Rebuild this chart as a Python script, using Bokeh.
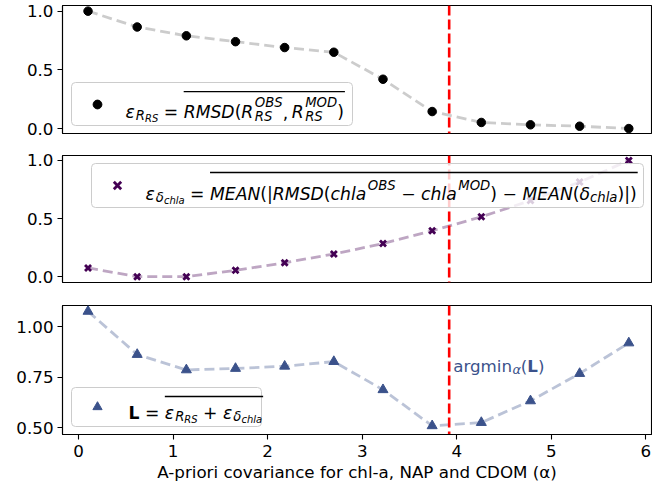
from bokeh.plotting import figure
from bokeh.models import (Range1d, FixedTicker, PrintfTickFormatter, Span, Legend,
                          LegendItem, Label, BoxAnnotation)
from bokeh.layouts import column
from bokeh.embed import file_html
from bokeh.resources import INLINE

# ---------------- data ----------------
alpha = [0.10, 0.62, 1.14, 1.66, 2.18, 2.70, 3.22, 3.74, 4.26, 4.78, 5.30, 5.82]
eps_rrs = [1.00, 0.865, 0.79, 0.74, 0.69, 0.65, 0.42, 0.145, 0.052, 0.032, 0.02, 0.0]
eps_chla = [0.075, 0.0, 0.0, 0.055, 0.12, 0.195, 0.285, 0.395, 0.515, 0.655, 0.815, 1.0]
loss = [1.075, 0.862, 0.786, 0.793, 0.804, 0.827, 0.688, 0.510, 0.526, 0.633, 0.768, 0.919]
alpha_opt = 3.92
x_ticks = [0, 1, 2, 3, 4, 5, 6]
y_ticks_top = [0.0, 0.5, 1.0]
y_ticks_bottom = [0.50, 0.75, 1.00]
x_label = "A-priori covariance for chl-a, NAP and CDOM (α)"

# ---------------- styling ----------------
FONT = "DejaVu Sans"
F = 16.7      # axis text size
FM = 17.2     # legend math size
FW = 589
XR = (-0.17, 6.06)
C_TOP = "black"
C_MID = "#440154"
C_BOT = "#3b528b"

W = {' ': 0.318, '(': 0.390, ')': 0.390, ',': 0.318, '=': 0.838, '+': 0.838, '−': 0.838,
     '|': 0.337, 'A': 0.684, 'B': 0.686, 'C': 0.698, 'D': 0.770, 'E': 0.632, 'L': 0.557,
     'M': 0.863, 'N': 0.748, 'O': 0.787, 'P': 0.603, 'R': 0.695, 'S': 0.635, 'a': 0.613,
     'c': 0.550, 'd': 0.635, 'g': 0.635, 'h': 0.634, 'i': 0.278, 'l': 0.278, 'm': 0.974,
     'n': 0.634, 'r': 0.411, 'ε': 0.541, 'δ': 0.612, 'α': 0.659}


def tw(s, size, style):
    w = sum(W.get(c, 0.6) for c in s) * size
    if style == "bold":
        w *= 1.14
    return w


def make_fig(yr, fh, top, bottom, show_x):
    p = figure(frame_width=FW, frame_height=fh, x_range=Range1d(*XR), y_range=Range1d(*yr),
               output_backend="svg", toolbar_location=None,
               x_axis_location="below" if show_x else None,
               min_border_left=62, min_border_right=1, min_border_top=top,
               min_border_bottom=bottom)
    p.xgrid.visible = False
    p.ygrid.visible = False
    p.outline_line_color = "black"
    p.outline_line_width = 1.1
    p.outline_line_alpha = 1
    for ax in p.axis:
        ax.axis_line_color = "black"
        ax.axis_line_width = 1.1
        ax.major_tick_line_color = "black"
        ax.major_tick_line_width = 1.1
        ax.major_tick_out = 5
        ax.major_tick_in = 0
        ax.minor_tick_out = 0
        ax.minor_tick_in = 0
        ax.major_label_text_font = FONT
        ax.major_label_text_font_size = f"{F}px"
        ax.major_label_text_color = "black"
        ax.major_label_standoff = 4
    return p


def converters(p):
    xs, xe = p.x_range.start, p.x_range.end
    ys, ye = p.y_range.start, p.y_range.end
    fh = p.frame_height

    def fx(px):
        return xs + px * (xe - xs) / FW

    def fy(py):
        return ys + py * (ye - ys) / fh
    return fx, fy


def add_math(p, x0, base, items, color="black", fsize=FM):
    fx, fy = converters(p)
    x = x0
    pending = 0.0
    ol0 = x0
    for it in items:
        kind = it[0]
        if kind == "g":
            x += it[1]
            continue
        if kind == "o0":
            ol0 = x
            continue
        if kind == "o1":
            yl = base + it[1]
            p.add_layout(BoxAnnotation(left=fx(ol0), right=fx(x + 1), bottom=fy(yl - 0.65),
                                       top=fy(yl + 0.65), fill_color=color, fill_alpha=1,
                                       line_color=None))
            continue
        _, txt, sf, dy, style = it
        size = fsize * sf
        p.add_layout(Label(x=fx(x), y=fy(base + dy), text=txt, text_font=FONT,
                           text_font_size=f"{size:.2f}px", text_font_style=style,
                           text_color=color, text_baseline="alphabetic", text_align="left"))
        w = tw(txt, size, style)
        if kind == "s":
            pending = max(pending, w)
        else:
            x += max(w, pending)
            pending = 0.0
    return x


def add_legend(p, renderer, left, bottom, w, h, gh):
    # frame of the legend, drawn below the formula texts
    fx, fy = converters(p)
    bkw = dict(left=fx(left), right=fx(left + w), bottom=fy(bottom), top=fy(bottom + h),
               fill_color="white", fill_alpha=0.8, line_color="#cccccc", line_width=1,
               line_alpha=1)
    if "border_radius" in BoxAnnotation.properties():
        bkw["border_radius"] = 4
    p.add_layout(BoxAnnotation(**bkw))
    # legend itself supplies the marker (centred 26px from the box's left edge)
    pad = 8
    p.add_layout(Legend(items=[LegendItem(label=" ", renderers=[renderer])],
                        location=(left, bottom), padding=pad, glyph_width=2 * (26 - pad),
                        glyph_height=gh, label_height=h - 2 * pad,
                        label_width=w - 2 * pad - 2 * (26 - pad), label_standoff=0,
                        label_text_font_size="1px", border_line_alpha=0,
                        background_fill_alpha=0, margin=0, spacing=0))


SUB, SUBSUB = 0.77, 0.58
GR = 5.5   # space around relations / binary operators

# ---------------- top panel ----------------
p1 = make_fig((-0.042, 1.048), 128, 5, 12, False)
p1.yaxis.ticker = FixedTicker(ticks=y_ticks_top)
p1.yaxis.formatter = PrintfTickFormatter(format="%.1f")
p1.add_layout(Span(location=alpha_opt, dimension="height", line_color="red", line_width=2.6,
                   line_dash="10 4", level="glyph"))
p1.line(alpha, eps_rrs, line_color=C_TOP, line_alpha=0.2, line_width=2.8, line_dash="10 5")
r1 = p1.scatter(alpha, eps_rrs, marker="circle", size=8.5, color=C_TOP)
add_legend(p1, r1, 9, 8, 281, 43, 22)
top_items = [
    ("t", "ε", 1, 0, "italic"), ("g", 1),
    ("t", "R", SUB, -3.5, "italic"),
    ("t", "RS", SUBSUB, -6.5, "italic"), ("g", GR),
    ("t", "=", 1, 0, "normal"), ("g", GR), ("o0",),
    ("t", "RMSD", 1, 0, "italic"), ("t", "(", 1, 0, "normal"),
    ("t", "R", 1, 0, "italic"), ("g", 1.5),
    ("s", "OBS", SUB, 9.5, "italic"), ("t", "RS", SUB, -4.5, "italic"),
    ("t", ",", 1, 0, "normal"), ("g", 3.5),
    ("t", "R", 1, 0, "italic"), ("g", 1.5),
    ("s", "MOD", SUB, 9.5, "italic"), ("t", "RS", SUB, -4.5, "italic"),
    ("t", ")", 1, 0, "normal"), ("o1", 20.3),
]
add_math(p1, 9 + 54, 8 + 43 - 29.5, top_items)

# ---------------- middle panel ----------------
p2 = make_fig((-0.05, 1.043), 127, 10, 13, False)
p2.yaxis.ticker = FixedTicker(ticks=y_ticks_top)
p2.yaxis.formatter = PrintfTickFormatter(format="%.1f")
p2.add_layout(Span(location=alpha_opt, dimension="height", line_color="red", line_width=2.6,
                   line_dash="10 4", level="glyph"))
p2.line(alpha, eps_chla, line_color=C_MID, line_alpha=0.35, line_width=2.8, line_dash="10 5")
r2 = p2.scatter(alpha, eps_chla, marker="x", size=8.5, line_width=2.8, color=C_MID)
MW, MH = 552, 44
add_legend(p2, r2, FW - 8 - MW, 127 - 8 - MH, MW, MH, 26)
mid_items = [
    ("t", "ε", 1, 0, "italic"), ("g", 1),
    ("t", "δ", SUB, -3.5, "italic"),
    ("t", "chla", SUBSUB, -6.5, "italic"), ("g", GR),
    ("t", "=", 1, 0, "normal"), ("g", GR), ("o0",),
    ("t", "MEAN", 1, 0, "italic"), ("t", "(", 1, 0, "normal"), ("t", "|", 1, 0, "normal"),
    ("t", "RMSD", 1, 0, "italic"), ("t", "(", 1, 0, "normal"),
    ("t", "chla", 1, 0, "italic"), ("g", 1.5), ("t", "OBS", SUB, 8.5, "italic"), ("g", GR),
    ("t", "−", 1, 0, "normal"), ("g", GR),
    ("t", "chla", 1, 0, "italic"), ("g", 1.5), ("t", "MOD", SUB, 8.5, "italic"),
    ("t", ")", 1, 0, "normal"), ("g", GR),
    ("t", "−", 1, 0, "normal"), ("g", GR),
    ("t", "MEAN", 1, 0, "italic"), ("t", "(", 1, 0, "normal"),
    ("t", "δ", 1, 0, "italic"), ("t", "chla", SUB, -4, "italic"),
    ("t", ")", 1, 0, "normal"), ("t", "|", 1, 0, "normal"), ("t", ")", 1, 0, "normal"),
    ("o1", 21),
]
add_math(p2, FW - 8 - MW + 54, 127 - 8 - 30, mid_items)

# ---------------- bottom panel ----------------
p3 = make_fig((0.467, 1.104), 129, 10, 0, True)
p3.yaxis.ticker = FixedTicker(ticks=y_ticks_bottom)
p3.yaxis.formatter = PrintfTickFormatter(format="%.2f")
p3.xaxis.ticker = FixedTicker(ticks=x_ticks)
p3.xaxis.major_label_standoff = 5
p3.xaxis.axis_label = x_label
p3.xaxis.axis_label_text_font = FONT
p3.xaxis.axis_label_text_font_size = f"{F}px"
p3.xaxis.axis_label_text_font_style = "normal"
p3.xaxis.axis_label_text_color = "black"
p3.xaxis.axis_label_standoff = 2
p3.add_layout(Span(location=alpha_opt, dimension="height", line_color="red", line_width=2.6,
                   line_dash="10 4", level="glyph"))
p3.line(alpha, loss, line_color=C_BOT, line_alpha=0.35, line_width=2.8, line_dash="10 5")
r3 = p3.scatter(alpha, loss, marker="triangle", size=10, color=C_BOT)
add_legend(p3, r3, 9, 8, 190, 39, 23)
bot_items = [
    ("t", "L", 1, 0, "bold"), ("g", GR),
    ("t", "=", 1, 0, "normal"), ("g", GR), ("o0",),
    ("t", "ε", 1, 0, "italic"), ("g", 1),
    ("t", "R", SUB, -3.5, "italic"),
    ("t", "RS", SUBSUB, -6.5, "italic"), ("g", GR),
    ("t", "+", 1, 0, "normal"), ("g", GR),
    ("t", "ε", 1, 0, "italic"), ("g", 1),
    ("t", "δ", SUB, -3.5, "italic"),
    ("t", "chla", SUBSUB, -6.5, "italic"),
    ("o1", 16),
]
add_math(p3, 9 + 57, 8 + 39 - 25, bot_items)

# argmin annotation
ax_px = (alpha_opt - XR[0]) / (XR[1] - XR[0]) * FW + 4
ay_px = (0.805 - 0.467) / (1.104 - 0.467) * 129
arg_items = [
    ("t", "argmin", 1, 0, "normal"),
    ("t", "α", SUB, -3.5, "italic"),
    ("t", "(", 1, 0, "normal"), ("t", "L", 1, 0, "bold"), ("t", ")", 1, 0, "normal"),
]
add_math(p3, ax_px, ay_px, arg_items, color=C_BOT, fsize=F)

layout = column(p1, p2, p3, spacing=0)
open("out.html", "w").write(file_html(layout, INLINE))
